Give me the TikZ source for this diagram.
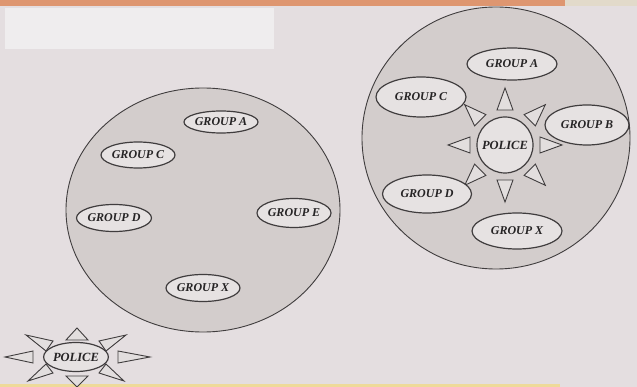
\documentclass[tikz,border=0pt]{standalone}
\usepackage{fontspec}
\setmainfont{Liberation Serif}
\usetikzlibrary{shapes.geometric,calc}
\definecolor{bgc}{HTML}{E4DEE0}
\definecolor{circfill}{HTML}{D3CDCC}
\definecolor{ellfill}{HTML}{E6E2E2}
\definecolor{rayfill}{HTML}{E2DEDE}
\definecolor{edgec}{HTML}{403D3E}
\definecolor{txtc}{HTML}{262425}
\definecolor{orangec}{HTML}{DE9670}
\definecolor{beigec}{HTML}{E2DACA}
\definecolor{yellowc}{HTML}{EEDA9A}
\definecolor{panelc}{HTML}{EFEDEE}
\begin{document}
\begin{tikzpicture}[x=1pt,y=-1pt,
  grp/.style={ellipse, draw=edgec, line width=1.2pt, fill=ellfill, inner sep=0pt,
    font=\bfseries\itshape\fontsize{12}{12}\selectfont, text=txtc},
  ring/.style={draw=edgec, line width=0.9pt, fill=circfill, inner sep=0pt},
  ray/.style={draw=edgec, line width=0.9pt, fill=rayfill, line join=miter}]
\useasboundingbox (0,0) rectangle (637,387);
\fill[bgc] (0,0) rectangle (637,387);
\fill[orangec] (0,0) rectangle (565,6);
\fill[beigec] (565,0) rectangle (637,6);
\fill[panelc] (5,8) rectangle (274,49);
\fill[yellowc] (0,384) rectangle (560,387);

% left circle
\node[ring, ellipse, minimum width=274pt, minimum height=244pt] (L) at (203,210) {};
\node[grp, minimum width=71pt, minimum height=22pt] (LA) at (221,122) {GROUP A};
\node[grp, minimum width=73pt, minimum height=26pt] (LC) at (138,155) {GROUP C};
\node[grp, minimum width=75pt, minimum height=27pt] (LD) at (114,218) {GROUP D};
\node[grp, minimum width=73pt, minimum height=29pt] (LE) at (294,213) {GROUP E};
\node[grp, minimum width=73pt, minimum height=27pt] (LX) at (203,288) {GROUP X};

% right circle
\node[ring, ellipse, minimum width=268pt, minimum height=262pt] (R) at (496,138) {};
\node[grp, circle, minimum size=56pt, font=\bfseries\itshape\fontsize{12.5}{12.5}\selectfont] (RP) at (505,145) {POLICE};
\foreach \a in {0,45,...,315}{
  \filldraw[ray] ($(RP.center)+(\a:35)+(\a+90:8)$) -- ($(RP.center)+(\a:57)$)
     -- ($(RP.center)+(\a:35)+(\a-90:8)$) -- cycle;
}
\node[grp, minimum width=90pt, minimum height=32pt] (RA) at (512,64) {GROUP A};
\node[grp, minimum width=90pt, minimum height=40pt] (RC) at (421,97) {GROUP C};
\node[grp, minimum width=84pt, minimum height=40pt] (RB) at (587,125) {GROUP B};
\node[grp, minimum width=89pt, minimum height=38pt] (RD) at (427,194) {GROUP D};
\node[grp, minimum width=90pt, minimum height=36pt] (RX) at (517,231) {GROUP X};

% police badge bottom left
\coordinate (BC) at (76,357);
\filldraw[ray] (5,357) -- (33,351) -- (33,363) -- cycle;
\filldraw[ray] (150,357) -- (118,351) -- (118,363) -- cycle;
\filldraw[ray] (77,328) -- (66,340) -- (88,340) -- cycle;
\filldraw[ray] (77,387) -- (66,376) -- (88,376) -- cycle;
\filldraw[ray] (26,335) -- (53,341) -- (46,351) -- cycle;
\filldraw[ray] (126,335) -- (99,341) -- (106,351) -- cycle;
\filldraw[ray] (28,381) -- (53,373) -- (46,364) -- cycle;
\filldraw[ray] (124,381) -- (99,373) -- (106,364) -- cycle;
\node[grp, minimum width=63pt, minimum height=29pt, font=\bfseries\itshape\fontsize{12.5}{12.5}\selectfont] (BP) at (BC) {POLICE};
\end{tikzpicture}
\end{document}
